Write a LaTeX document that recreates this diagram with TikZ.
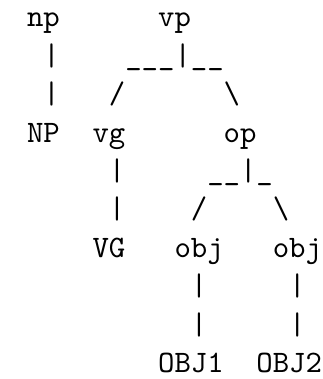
\documentclass[tikz,border=0pt]{standalone}
\usepackage{tikz}
\usetikzlibrary{positioning}
% one character cell of the typewriter grid
\def\cw{5.25pt}
\def\lh{12.3pt}
\def\tok#1#2#3#4{
\node [tt] (#1) at ({#2*\cw},{-#3*\lh}) {#4};
}
\tikzset{tt/.style={font=\ttfamily,inner sep=0pt,anchor=base west}}

\begin{document}
\begin{tikzpicture}
    \useasboundingbox (-3.2pt,8.6pt) rectangle (100.2pt,-112.8pt);
    % labels
    \tok {np}   {1} {0} {np}
    \tok {vp}   {9} {0} {vp}
    \tok {NP}   {1} {3} {NP}
    \tok {vg}   {5} {3} {vg}
    \tok {op}   {13} {3} {op}
    \tok {VG}   {5} {6} {VG}
    \tok {obj1} {10} {6} {obj}
    \tok {obj2} {16} {6} {obj}
    \tok {OBJ1} {9} {9} {OBJ1}
    \tok {OBJ2} {15} {9} {OBJ2}
    % branches, drawn as characters
    \tok {np-s1}   {2} {1} {|}
    \tok {np-s2}   {2} {2} {|}
    \tok {vp-fork} {7} {1} {\_\_\_|\_\_}
    \tok {vp-l}    {6} {2} {/}
    \tok {vp-r}    {13} {2} {\textbackslash}
    \tok {vg-s1}   {6} {4} {|}
    \tok {vg-s2}   {6} {5} {|}
    \tok {op-fork} {12} {4} {\_\_|\_}
    \tok {op-l}    {11} {5} {/}
    \tok {op-r}    {16} {5} {\textbackslash}
    \tok {obj1-s1} {11} {7} {|}
    \tok {obj1-s2} {11} {8} {|}
    \tok {obj2-s1} {17} {7} {|}
    \tok {obj2-s2} {17} {8} {|}
\end{tikzpicture}
\end{document}
